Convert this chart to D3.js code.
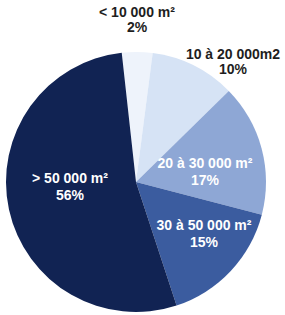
<!DOCTYPE html>
<html>
<head>
<meta charset="utf-8">
<script src="https://cdn.jsdelivr.net/npm/d3@7"></script>
<style>
  body { margin: 0; background: #fff; }
  svg { display: block; }
</style>
</head>
<body>
<div id="canvas"></div>
<script>
const width = 285;
const height = 315;

// slices, clockwise from the top
var categories = ["< 10 000 m\u00b2", "10 \u00e0 20 000m2", "20 \u00e0 30 000 m\u00b2", "30 \u00e0 50 000 m\u00b2", "> 50 000 m\u00b2"];
// share of the circle each slice covers, as drawn
var sliceShares = [3.8, 10.6, 16.4, 15.9, 53.3];
// percentages as printed on the labels
var pctLabels = ["2%", "10%", "17%", "15%", "56%"];

var colors = ["#eef3fb", "#d6e3f5", "#8ea7d5", "#3b5c9f", "#112353"];
var textColors = ["#1e1e1e", "#1e1e1e", "#ffffff", "#ffffff", "#ffffff"];
// label centres (x, first baseline) for each slice
var labelAt = [[137, 17], [233, 59], [205, 168], [204, 230], [70, 183]];

const cx = 136, cy = 182, radius = 130;
const start = -0.11;

const svg = d3.select("#canvas")
    .append("svg")
    .attr("width", width)
    .attr("height", height);

var pie = d3.pie()
    .sort(null)
    .startAngle(start)
    .endAngle(start + 2 * Math.PI);

var arc = d3.arc()
    .innerRadius(0)
    .outerRadius(radius);

var arcs = pie(sliceShares);

svg.append("g")
    .attr("transform", `translate(${cx},${cy})`)
    .selectAll("path")
    .data(arcs)
    .join("path")
    .attr("d", arc)
    .attr("fill", (d, i) => colors[i]);

var labels = svg.selectAll("text.lbl")
    .data(categories)
    .join("text")
    .attr("class", "lbl")
    .attr("text-anchor", "middle")
    .attr("font-family", "'Liberation Sans', Arial, sans-serif")
    .attr("font-weight", "bold")
    .attr("font-size", "14px")
    .attr("fill", (d, i) => textColors[i]);

labels.append("tspan")
    .attr("x", (d, i) => labelAt[i][0])
    .attr("y", (d, i) => labelAt[i][1])
    .text(d => d);

labels.append("tspan")
    .attr("x", (d, i) => labelAt[i][0])
    .attr("y", (d, i) => labelAt[i][1] + (i < 2 ? 15 : 17))
    .text((d, i) => pctLabels[i]);
</script>
</body>
</html>
